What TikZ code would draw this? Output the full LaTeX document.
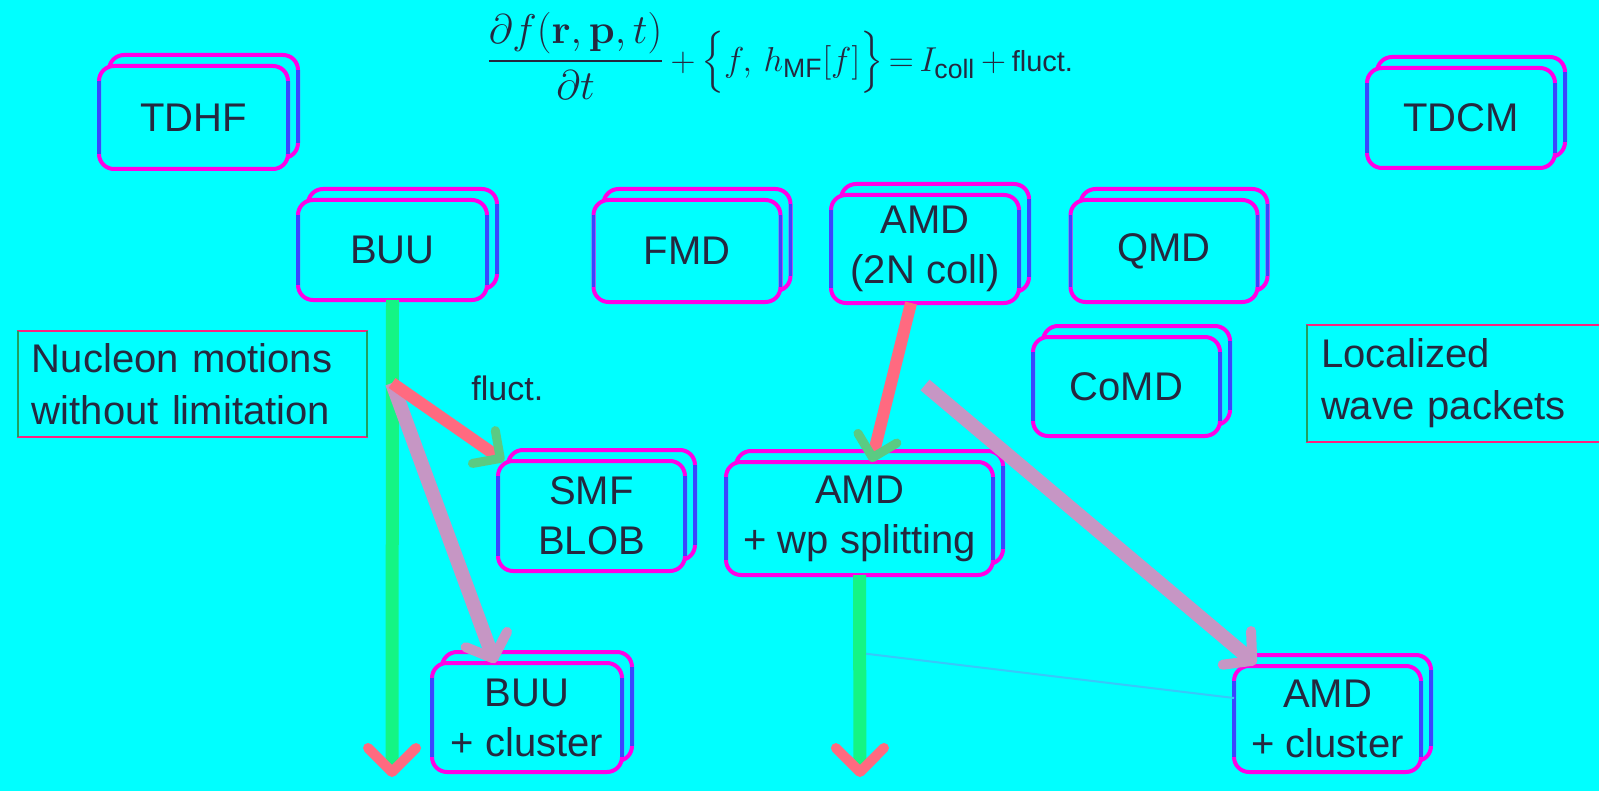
\documentclass[tikz,border=0pt]{standalone}
\usepackage{amsmath}
\usepackage[no-math]{fontspec}
\setmainfont{Liberation Sans}
\setsansfont{Liberation Sans}
\usetikzlibrary{arrows.meta}

\definecolor{bg}{HTML}{00FFFF}
\definecolor{edge}{HTML}{FF00E6}
\definecolor{side}{HTML}{3A46FF}
\definecolor{ink}{HTML}{26283F}
\definecolor{flow}{HTML}{14F584}
\definecolor{tip}{HTML}{FF6A80}
\definecolor{hatch}{HTML}{C696C4}
\definecolor{frame}{HTML}{FF2080}
\definecolor{frameside}{HTML}{20A060}

\tikzset{
  model/.style={rectangle, rounded corners=7.5pt, fill=bg, draw=edge,
    line width=2pt, outer sep=0pt, inner sep=0pt, text=ink, align=center,
    font=\fontsize{20}{25}\selectfont},
  sidebar/.style={draw=side, line width=1.6pt},
  note/.style={rectangle, draw=frame, line width=1pt, outer sep=0pt,
    inner xsep=7pt, inner ysep=0pt, align=left, text=ink,
    font=\fontsize{20}{26}\selectfont},
  noteside/.style={draw=frameside, line width=0.6pt},
  label/.style={text=ink, inner sep=0pt, font=\fontsize{17}{20}\selectfont},
  mainflow/.style={draw=flow, line width=6.5pt,
    -{Straight Barb[length=12pt, width=24pt, line width=5pt, round, color=tip]}},
  fluctflow/.style={draw=tip, line width=6pt,
    -{Straight Barb[length=10pt, width=20pt, line width=4.5pt, round, color=flow!70!tip]}},
  clusterflow/.style={draw=hatch, line width=7pt,
    -{Straight Barb[length=10pt, width=22pt, line width=5pt, round]}},
  faintflow/.style={draw=edge!22!bg, line width=1pt},
}

% a model box: a shadow copy shifted up-right, then the box itself on top
% #1 name, #2 centre, #3 width (px), #4 height (px), #5 text
\newcommand\modelbox[5]{%
  \node[model, minimum width=#3*0.5pt, minimum height=#4*0.5pt,
        xshift=5pt, yshift=5.5pt] (#1-back) at #2 {};
  \draw[sidebar] ([yshift=-7.5pt]#1-back.north east) -- ([yshift=7.5pt]#1-back.south east);
  \node[model, minimum width=#3*0.5pt, minimum height=#4*0.5pt] (#1) at #2 {#5};
  \draw[sidebar] ([yshift=-7.5pt]#1.north east) -- ([yshift=7.5pt]#1.south east);
  \draw[sidebar] ([yshift=-7.5pt]#1.north west) -- ([yshift=7.5pt]#1.south west);
}

\begin{document}
\begin{tikzpicture}[x=0.5pt, y=-0.5pt]
  \fill[bg] (0,0) rectangle (1599,791);
  \useasboundingbox (0,0) rectangle (1599,791);
  \clip (0,0) rectangle (1599,791);

  % transport equation
  \node[anchor=west, inner sep=0pt, text=ink, font=\fontsize{19}{22}\selectfont] (eq) at (486,56)
    {\thickmuskip=3mu \medmuskip=3mu
     \text{\fontsize{20.5}{24}\selectfont
       $\displaystyle\frac{\partial f(\mathbf{r},\mathbf{p},t)}{\partial t}$}%
     $\mathord{}+ \Bigl\{ f,\, h_{\textsf{MF}}[f] \Bigr\} = I_{\textsf{coll}}
      + \text{\fontsize{14.5}{16}\selectfont fluct.}$};

  % model boxes
  \modelbox{tdhf}{(193.5,117.5)}{189}{103}{TDHF}
  \modelbox{tdcm}{(1461,118)}{188}{100}{TDCM}
  \modelbox{buu}{(392.5,250)}{189}{100}{BUU}
  \modelbox{fmd}{(687,251)}{187}{102}{FMD}
  \modelbox{amd}{(925,249)}{188}{108}{AMD\\(2N coll)}
  \modelbox{qmd}{(1164,251)}{187}{102}{QMD}
  \modelbox{comd}{(1126.5,386.5)}{187}{99}{CoMD}
  \modelbox{smf}{(591.5,516)}{187}{110}{SMF\\BLOB}
  \modelbox{amdwp}{(859.5,518.5)}{267}{113}{AMD\\+ wp splitting}
  \modelbox{buucl}{(527,717.5)}{190}{109}{BUU\\+ cluster}
  \modelbox{amdcl}{(1327.5,719)}{187}{106}{AMD\\+ cluster}

  % side notes
  \node[note, anchor=north west, text width=160.5pt, minimum height=53pt] (nucleon) at (18,331)
    {Nucleon motions\\without limitation};
  \draw[noteside] (nucleon.north west) -- (nucleon.south west);
  \draw[noteside] (nucleon.north east) -- (nucleon.south east);
  \node[note, anchor=north west, text width=140pt, minimum height=58.5pt] (wave) at (1307,325)
    {Localized\\wave packets};
  \draw[noteside] (wave.north west) -- (wave.south west);

  \node[label, anchor=west] (fl) at (471,388) {fluct.};

  % connectors
  \coordinate (buuend) at (392,777);
  \coordinate (buufork) at (392,383);
  \coordinate (amdfork) at (925,385);
  \coordinate (wpend) at (860,777);
  \coordinate (wpfork) at (860,653);

  \draw[faintflow] (wpfork) -- ([yshift=-16pt]amdcl.north west);
  \draw[mainflow] (buu.south) -- (buuend);
  \draw[mainflow] (amdwp.south) -- (wpend);
  \draw[clusterflow] (buufork) -- ([xshift=-16pt]buucl.north);
  \draw[fluctflow] (buufork) -- ([xshift=3pt]smf.north west);
  \draw[fluctflow] ([xshift=-7pt]amd.south) -- ([xshift=6pt]amdwp.north);
  \draw[clusterflow] (amdfork) -- ([xshift=11pt,yshift=1pt]amdcl.north west);
\end{tikzpicture}
\end{document}
